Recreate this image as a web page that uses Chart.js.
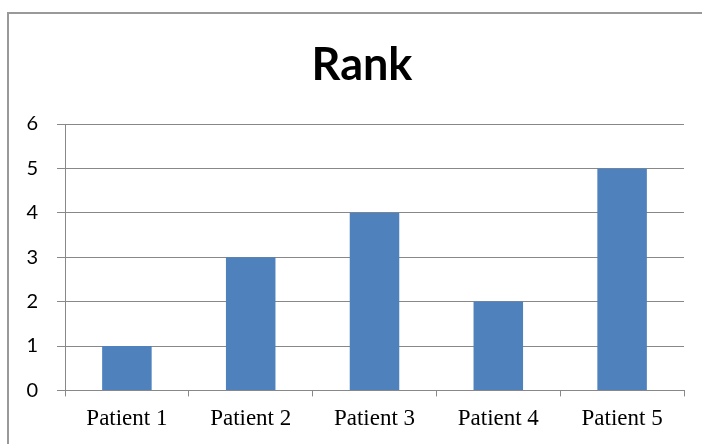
<!DOCTYPE html>
<html>
<head>
<meta charset="utf-8">
<script src="https://cdn.jsdelivr.net/npm/chart.js@4.4.0/dist/chart.umd.min.js"></script>
<style>
  html, body { margin: 0; padding: 0; background: #fff; overflow: hidden; }
  #frame { position: absolute; left: 7px; top: 12px; width: 760px; height: 500px; border: 2px solid #999; }
  #wrap { position: absolute; left: 0; top: 0; width: 702px; height: 444px; }
</style>
</head>
<body>
<div id="frame"></div>
<div id="wrap"><canvas id="myChart" width="702" height="444"></canvas></div>
<script>
var patients = ["Patient 1", "Patient 2", "Patient 3", "Patient 4", "Patient 5"];
var rank = [1, 3, 4, 2, 5];
var y_ticks = [0, 1, 2, 3, 4, 5, 6];

var ctx = document.getElementById("myChart");
var myBarChart = new Chart(ctx, {
  type: 'bar',
  data: {
    labels: patients,
    datasets: [{
      label: "Rank",
      backgroundColor: "#4F81BD",
      borderWidth: 0,
      barPercentage: 0.8,
      categoryPercentage: 0.5,
      data: rank
    }]
  },
  options: {
    responsive: false,
    animation: false,
    layout: { padding: { left: 22, right: 0, top: 0, bottom: 2 } },
    plugins: {
      legend: { display: false },
      tooltip: { enabled: false },
      title: {
        display: true,
        text: "Rank",
        color: "#000",
        font: { family: "Lato", size: 45, weight: "bold", lineHeight: 1.2 },
        padding: { top: 38, bottom: 32 }
      }
    },
    scales: {
      x: {
        grid: { offset: true, drawOnChartArea: false, tickLength: 6, color: "#888", lineWidth: 1 },
        border: { color: "#888", width: 1 },
        ticks: { color: "#000", padding: 9, font: { family: "Liberation Serif", size: 23, lineHeight: 1.2 } }
      },
      y: {
        min: y_ticks[0],
        max: y_ticks[y_ticks.length - 1],
        afterFit: function(scale) { scale.width = 43; },
        grid: { tickLength: 8, color: "#888", lineWidth: 1 },
        border: { color: "#888", width: 1 },
        ticks: { stepSize: 1, color: "#000", padding: 19, font: { family: "Lato", size: 20 } }
      },
      // empty right-hand spacer so the plot stops short of the frame edge
      y2: {
        position: 'right',
        afterFit: function(scale) { scale.width = 18; },
        grid: { display: false },
        border: { display: false },
        ticks: { display: false }
      }
    }
  }
});
</script>
</body>
</html>
